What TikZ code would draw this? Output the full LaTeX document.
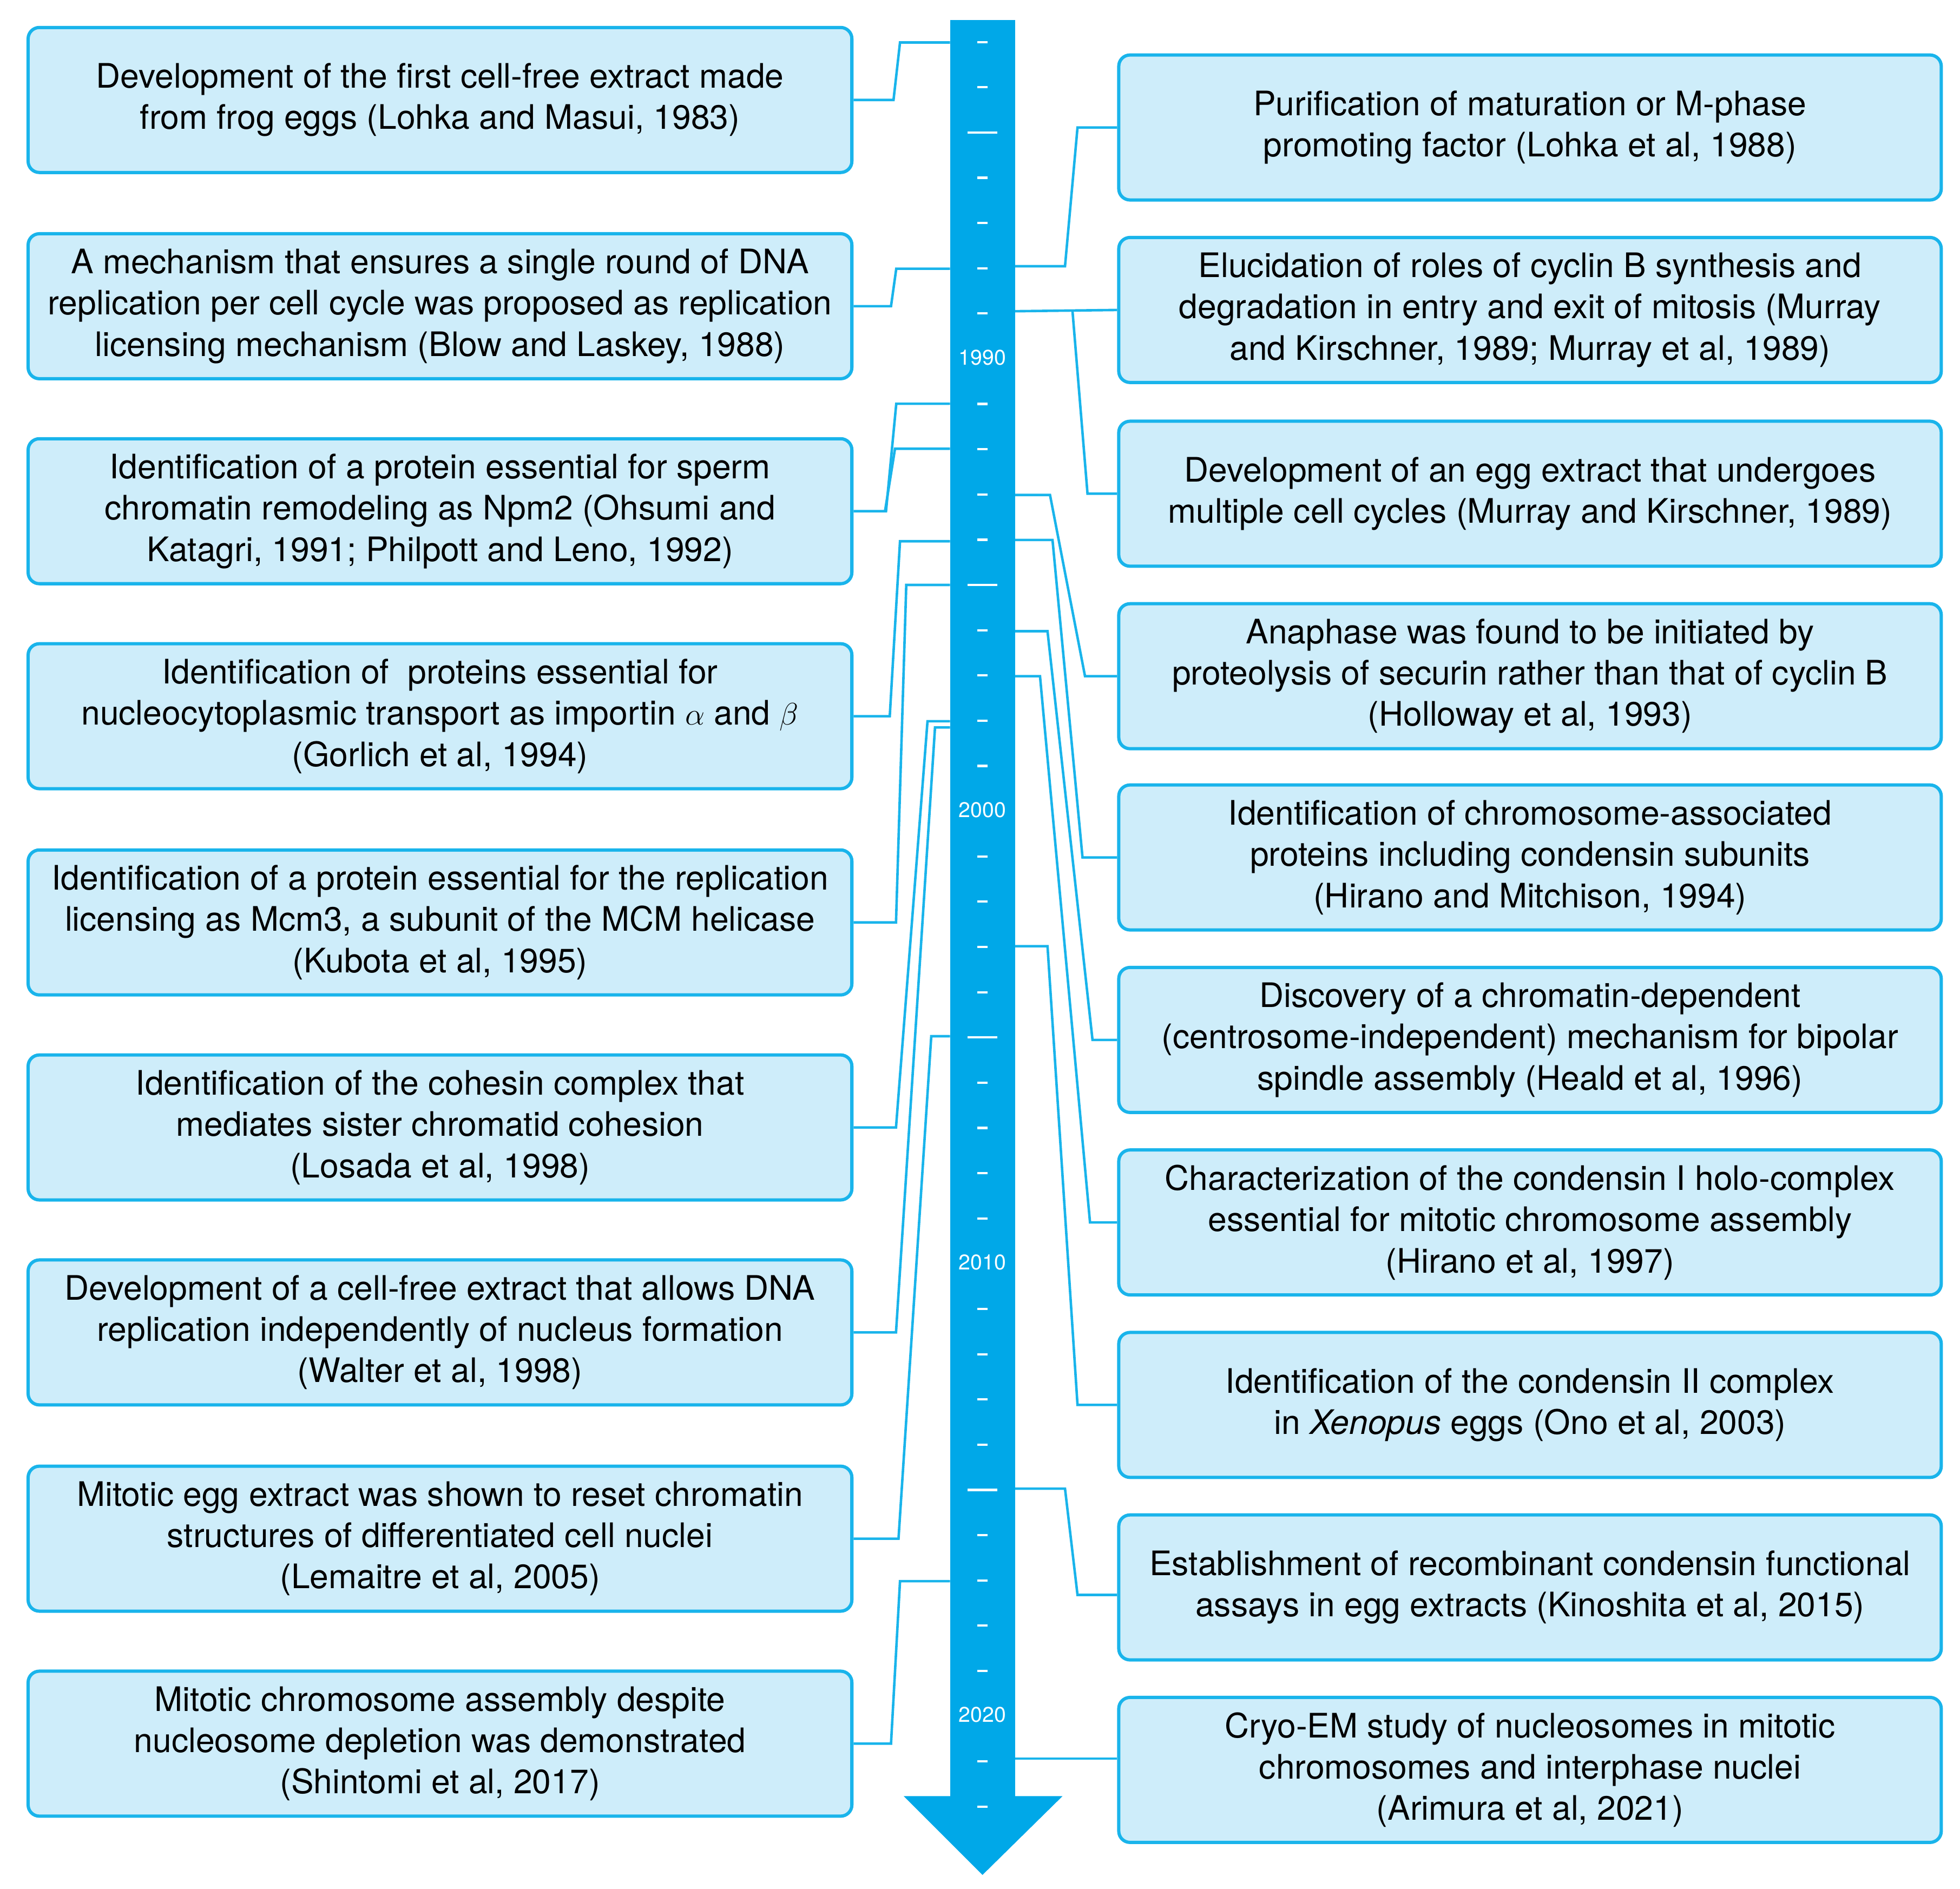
\documentclass[tikz,border=0pt]{standalone}
\usepackage{fontspec}
\setmainfont{TeX Gyre Heros}
\begin{document}
\begin{tikzpicture}[x=1pt,y=-1pt,
  box/.style={draw=cbord,fill=cfill,line width=2.6pt,rounded corners=9pt,align=center,
    font=\fontsize{27}{33}\selectfont,inner sep=0pt},
  con/.style={draw=cbord,line width=2pt},
  tick/.style={draw=white,line width=1.8pt}]
\definecolor{cbord}{RGB}{25,180,235}
\definecolor{cfill}{RGB}{206,237,250}
\definecolor{cbar}{RGB}{0,168,232}
\useasboundingbox (0,0) rectangle (1568,1511);
% timeline
\fill[cbar] (760,16) rectangle (812,1440);
\fill[cbar] (723,1437) -- (850,1437) -- (786,1500) -- cycle;
\foreach \yr in {1983,...,2022}{
  \pgfmathsetmacro{\yy}{287+(\yr-1990)*36.2}
  \pgfmathtruncatemacro{\m}{mod(\yr,10)}
  \ifnum\m=0
    \node[text=white,font=\fontsize{17}{18}\selectfont] at (786,\yy-1) {\yr};
  \else\ifnum\m=5
    \draw[tick] (774,\yy) -- (798,\yy);
  \else
    \draw[tick] (782,\yy) -- (790,\yy);
  \fi\fi}
% left boxes
\newcommand\lb[3]{\node[box,minimum width=659pt,minimum height=116pt] (#1) at (352,#2) {#3};}
\lb{l1}{80}{Development of the first cell-free extract made\\from frog eggs (Lohka and Masui, 1983)}
\lb{l2}{245}{A mechanism that ensures a single round of DNA\\replication per cell cycle was proposed as replication\\licensing mechanism (Blow and Laskey, 1988)}
\lb{l3}{409}{Identification of a protein essential for sperm\\chromatin remodeling as Npm2 (Ohsumi and\\Katagri, 1991; Philpott and Leno, 1992)}
\lb{l4}{573}{Identification of \ proteins essential for\\nucleocytoplasmic transport as importin $\alpha$ and $\beta$\\(Gorlich et al, 1994)}
\lb{l5}{738}{Identification of a protein essential for the replication\\licensing as Mcm3, a subunit of the MCM helicase\\(Kubota et al, 1995)}
\lb{l6}{902}{Identification of the cohesin complex that\\mediates sister chromatid cohesion\\(Losada et al, 1998)}
\lb{l7}{1066}{Development of a cell-free extract that allows DNA\\replication independently of nucleus formation\\(Walter et al, 1998)}
\lb{l8}{1231}{Mitotic egg extract was shown to reset chromatin\\structures of differentiated cell nuclei\\(Lemaitre et al, 2005)}
\lb{l9}{1395}{Mitotic chromosome assembly despite\\nucleosome depletion was demonstrated\\(Shintomi et al, 2017)}
% right boxes
\newcommand\rb[3]{\node[box,minimum width=658pt,minimum height=116pt] (#1) at (1224,#2) {#3};}
\rb{r1}{102}{Purification of maturation or M-phase\\promoting factor (Lohka et al, 1988)}
\rb{r2}{248}{Elucidation of roles of cyclin B synthesis and\\degradation in entry and exit of mitosis (Murray\\and Kirschner, 1989; Murray et al, 1989)}
\rb{r3}{395}{Development of an egg extract that undergoes\\multiple cell cycles (Murray and Kirschner, 1989)}
\rb{r4}{541}{Anaphase was found to be initiated by\\proteolysis of securin rather than that of cyclin B\\(Holloway et al, 1993)}
\rb{r5}{686}{Identification of chromosome-associated\\proteins including condensin subunits\\(Hirano and Mitchison, 1994)}
\rb{r6}{832}{Discovery of a chromatin-dependent\\(centrosome-independent) mechanism for bipolar\\spindle assembly (Heald et al, 1996)}
\rb{r7}{978}{Characterization of the condensin I holo-complex\\essential for mitotic chromosome assembly\\(Hirano et al, 1997)}
\rb{r8}{1124}{Identification of the condensin II complex\\in \textit{Xenopus} eggs (Ono et al, 2003)}
\rb{r9}{1270}{Establishment of recombinant condensin functional\\assays in egg extracts (Kinoshita et al, 2015)}
\rb{r10}{1416}{Cryo-EM study of nucleosomes in mitotic\\chromosomes and interphase nuclei\\(Arimura et al, 2021)}
% bar anchor coordinates
\foreach \n/\x/\y in {a1/760/34,a2/760/215,a3/760/323,a4/760/359,a5/760/433,a6/760/468,a7/760/577,a8/760/582,a9/760/829,a10/760/1265,
  b1/812/213,b2/812/249,b4/812/396,b5/812/432,b6/812/505,b7/812/541,b8/812/757,b9/812/1191,b10/812/1407}
  \coordinate (\n) at (\x,\y);
% left connectors
\draw[con] (l1.east) -- ++(32,0) -- (720,34) -- (a1);
\draw[con] (l2.east) -- ++(30,0) -- (717,215) -- (a2);
\draw[con] (l3.east) -- ++(26,0) -- (717,323) -- (a3);
\draw[con] (708,409) -- (716,359) -- (a4);
\draw[con] (l4.east) -- ++(29,0) -- (720,433) -- (a5);
\draw[con] (l5.east) -- ++(34,0) -- (725,468) -- (a6);
\draw[con] (l6.east) -- ++(34,0) -- (742,577) -- (a7);
\draw[con] (l7.east) -- ++(34,0) -- (748,582) -- (a8);
\draw[con] (l8.east) -- ++(36,0) -- (745,829) -- (a9);
\draw[con] (l9.east) -- ++(30,0) -- (720,1265) -- (a10);
% right connectors
\draw[con] (b1) -- (852,213) -- (862,102) -- (r1.west);
\draw[con] (b2) -- (r2.west);
\draw[con] (858,249) -- (870,395) -- (r3.west);
\draw[con] (b4) -- (840,396) -- (868,541) -- (r4.west);
\draw[con] (b5) -- (842,432) -- (866,686) -- (r5.west);
\draw[con] (b6) -- (838,505) -- (874,832) -- (r6.west);
\draw[con] (b7) -- (832,541) -- (872,978) -- (r7.west);
\draw[con] (b8) -- (838,757) -- (862,1124) -- (r8.west);
\draw[con] (b9) -- (852,1191) -- (862,1276) -- (r9.west |- 0,1276);
\draw[con] (b10) -- (r10.west |- 0,1407);
\end{tikzpicture}
\end{document}
